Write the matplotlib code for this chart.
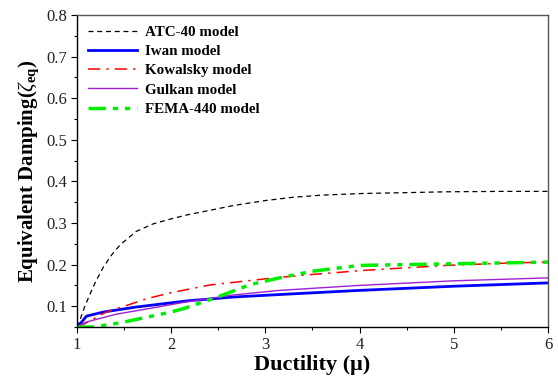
import numpy as np
import matplotlib
matplotlib.use('Agg')
import matplotlib.pyplot as plt
from matplotlib.ticker import MultipleLocator

# values
mu_atc = [1.0, 1.03, 1.08, 1.14, 1.2, 1.28, 1.37, 1.46, 1.63, 1.81, 2.0, 2.18, 2.4, 2.66, 3.0, 3.3, 3.6, 4.04, 4.5, 4.92, 5.5, 6.0]
z_atc = [0.05, 0.066, 0.098, 0.130, 0.160, 0.194, 0.224, 0.248, 0.280, 0.298, 0.310, 0.320, 0.330, 0.342, 0.354, 0.362, 0.367, 0.371, 0.373, 0.375, 0.376, 0.376]

mu_iwan = [1.0, 1.05, 1.1, 1.28, 1.63, 2.18, 2.66, 3.15, 4.0, 5.0, 6.0]
z_iwan = [0.05, 0.062, 0.076, 0.086, 0.098, 0.113, 0.122, 0.128, 0.138, 0.148, 0.156]

mu_kow = [1.0, 1.1, 1.21, 1.31, 1.53, 1.74, 1.99, 2.41, 2.73, 3.05, 3.37, 4.04, 4.92, 5.6, 6.0]
z_kow = [0.05, 0.060, 0.074, 0.086, 0.102, 0.118, 0.132, 0.151, 0.159, 0.167, 0.174, 0.186, 0.198, 0.204, 0.206]

mu_gul = [1.0, 1.1, 1.42, 1.63, 2.18, 2.66, 3.15, 4.0, 5.0, 6.0]
z_gul = [0.05, 0.062, 0.081, 0.089, 0.111, 0.127, 0.138, 0.150, 0.161, 0.168]

mu_fema = [1.0, 1.17, 1.46, 1.75, 2.0, 2.13, 2.48, 2.84, 3.15, 3.5, 4.0, 5.0, 6.0]
z_fema = [0.05, 0.05, 0.060, 0.074, 0.086, 0.094, 0.121, 0.152, 0.168, 0.184, 0.198, 0.202, 0.206]

plt.rcParams['font.family'] = ['Liberation Serif', 'DejaVu Serif']
plt.rcParams['mathtext.fontset'] = 'custom'
plt.rcParams['mathtext.rm'] = 'Liberation Serif'
plt.rcParams['mathtext.it'] = 'Liberation Serif:italic'
plt.rcParams['mathtext.bf'] = 'Liberation Serif:bold'

fig = plt.figure(figsize=(5.58, 3.8), dpi=100)
ax = fig.add_axes([0.138, 0.1395, 0.844, 0.821])

ax.plot(mu_atc, z_atc, color='black', ls=(0, (4, 3)), lw=0.9, label='ATC-40 model')
ax.plot(mu_iwan, z_iwan, color='#0000ff', ls='-', lw=2.0, label='Iwan model')
ax.plot(mu_kow, z_kow, color='#ff0000', ls=(0, (8, 4, 1.5, 4)), lw=1.1, label='Kowalsky model')
ax.plot(mu_gul, z_gul, color='#a020d0', ls='-', lw=1.0, label='Gulkan model')
ax.plot(mu_fema, z_fema, color='#00ee00', ls=(0, (5, 2, 1.5, 2, 1.5, 2)), lw=2.5, label='FEMA-440 model')

ax.set_xlim(1, 6)
ax.set_ylim(0.05, 0.8)
ax.xaxis.set_major_locator(MultipleLocator(1))
ax.xaxis.set_minor_locator(MultipleLocator(0.5))
ax.set_yticks([0.1, 0.2, 0.3, 0.4, 0.5, 0.6, 0.7, 0.8])
ax.set_yticklabels(['0.1', '0.2', '0.3', '0.4', '0.5', '0.6', '0.7', '0.8'])
ax.yaxis.set_minor_locator(MultipleLocator(0.05))
ax.tick_params(which='major', direction='out', length=4, width=0.8, labelsize=12, pad=3, labelcolor='#222222')
ax.tick_params(which='minor', direction='out', length=2.5, width=0.8)
ax.tick_params(top=False, right=False)

ax.spines['top'].set_color('#555555')
ax.spines['right'].set_color('#555555')
for s in ax.spines.values():
    s.set_linewidth(1.0)

ax.set_xlabel('Ductility (\u03bc)', fontsize=16, fontweight='bold', labelpad=2)
ax.set_ylabel(r'Equivalent Damping($\zeta_{\mathbf{eq}}$)', fontsize=15, fontweight='bold', labelpad=4)

leg = ax.legend(loc='upper left', frameon=False, prop={'weight': 'bold', 'size': 10.8},
                handlelength=3.3, handletextpad=0.5, labelspacing=0.38,
                borderaxespad=0.3, bbox_to_anchor=(0.0, 1.0))

fig.savefig('out.png', dpi=100)
